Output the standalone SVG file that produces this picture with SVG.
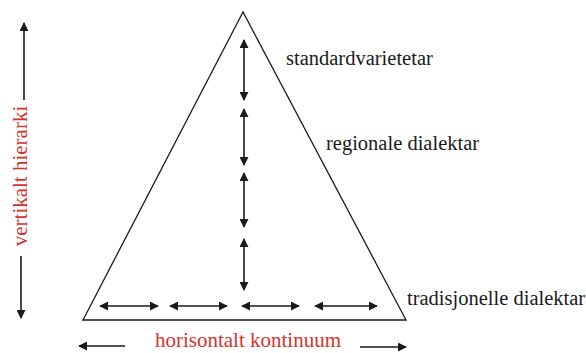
<svg xmlns="http://www.w3.org/2000/svg" width="586" height="353" viewBox="0 0 586 353">
<style>
.ln{stroke:#1a1a1a;stroke-width:1.6;fill:none}
.lbl{font-size:20.5px;fill:#1a1a1a}
.red{font-size:21px;fill:#d6322c}
</style>
<defs>
<marker id="ah" viewBox="0 0 10 10" refX="9" refY="5" markerWidth="9" markerHeight="9" markerUnits="userSpaceOnUse" orient="auto-start-reverse">
<path d="M0,0 L10,5 L0,10 z" fill="#1a1a1a"/>
</marker>
</defs>
<rect width="586" height="353" fill="#fff"/>
<g id="triangle"><polygon points="243,12 83,320 406,320" fill="none" stroke="#1a1a1a" stroke-width="1.3"/></g>
<g id="connectors">
<line class="ln" x1="244" y1="40" x2="244" y2="100" marker-start="url(#ah)" marker-end="url(#ah)"/>
<line class="ln" x1="244" y1="109" x2="244" y2="165" marker-start="url(#ah)" marker-end="url(#ah)"/>
<line class="ln" x1="244" y1="173" x2="244" y2="227" marker-start="url(#ah)" marker-end="url(#ah)"/>
<line class="ln" x1="244" y1="239" x2="244" y2="290" marker-start="url(#ah)" marker-end="url(#ah)"/>
<line class="ln" x1="100" y1="306" x2="158" y2="306" marker-start="url(#ah)" marker-end="url(#ah)"/>
<line class="ln" x1="170" y1="306" x2="227" y2="306" marker-start="url(#ah)" marker-end="url(#ah)"/>
<line class="ln" x1="242" y1="306" x2="299" y2="306" marker-start="url(#ah)" marker-end="url(#ah)"/>
<line class="ln" x1="315" y1="306" x2="377" y2="306" marker-start="url(#ah)" marker-end="url(#ah)"/>
<line class="ln" x1="125" y1="346" x2="79" y2="346" marker-end="url(#ah)"/>
<line class="ln" x1="360" y1="347" x2="406" y2="347" marker-end="url(#ah)"/>
<line class="ln" x1="24" y1="100" x2="24" y2="23" marker-end="url(#ah)"/>
<line class="ln" x1="21" y1="256" x2="21" y2="318" marker-end="url(#ah)"/>
</g>
<g id="labels" font-family="Liberation Serif, Times New Roman, serif">
<text class="lbl" x="286" y="65">standardvarietetar</text>
<text class="lbl" x="326" y="150">regionale dialektar</text>
<text class="lbl" x="407" y="305">tradisjonelle dialektar</text>
<text class="red" x="248" y="347" text-anchor="middle">horisontalt kontinuum</text>
<text class="red" transform="translate(27,176) rotate(-90)" text-anchor="middle">vertikalt hierarki</text>
</g>
</svg>
